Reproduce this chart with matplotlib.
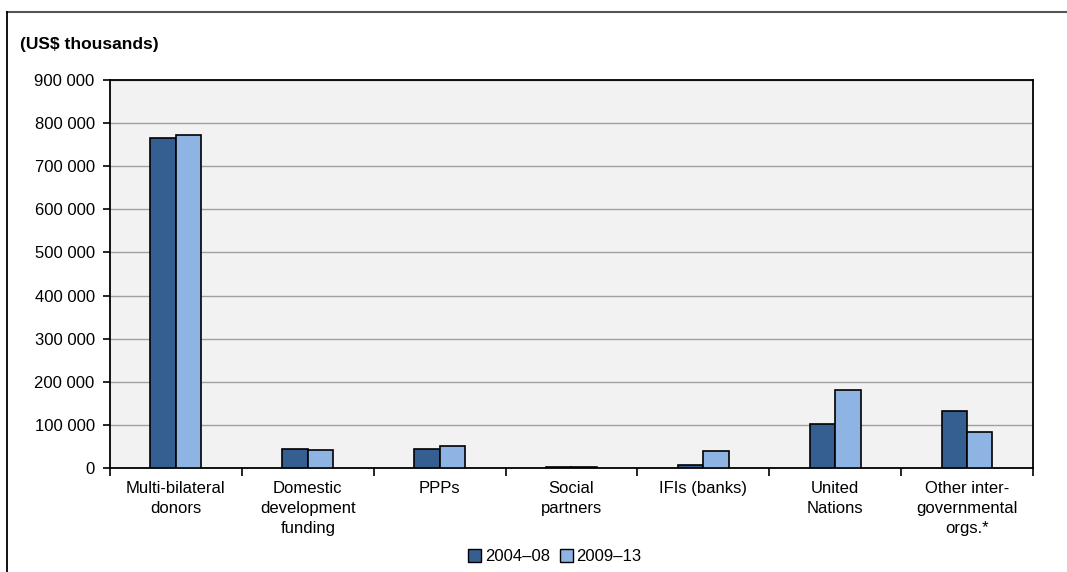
import numpy as np
import matplotlib.pyplot as plt
from matplotlib.ticker import FuncFormatter, FixedLocator
from matplotlib.patches import Patch
from matplotlib.lines import Line2D

plt.rcParams["font.family"] = ["Liberation Sans", "DejaVu Sans"]

categories = ["Multi-bilateral\ndonors", "Domestic\ndevelopment\nfunding", "PPPs",
              "Social\npartners", "IFIs (banks)", "United\nNations",
              "Other inter-\ngovernmental\norgs.*"]
period_a = [765000, 45000, 45000, 3000, 7000, 102000, 133000]
period_b = [772000, 42000, 51000, 3000, 39000, 181000, 83000]
labels = ["2004\u201308", "2009\u201313"]
dark, light = "#365F91", "#8EB4E3"

fig = plt.figure(figsize=(10.67, 5.72), dpi=100)
ax = fig.add_axes([0.1031, 0.1818, 0.8650, 0.6783])
ax.set_facecolor("#F2F2F2")

x = np.arange(len(categories))
w = 0.193
ax.bar(x - w / 2, period_a, w, color=dark, edgecolor="black", linewidth=1.2, zorder=3)
ax.bar(x + w / 2, period_b, w, color=light, edgecolor="black", linewidth=1.2, zorder=3)

ax.set_xlim(-0.5, len(categories) - 0.5)
ax.set_ylim(0, 900000)
ax.set_yticks(np.arange(0, 900001, 100000))
ax.yaxis.set_major_formatter(FuncFormatter(lambda v, p: f"{int(v):,}".replace(",", " ")))
ax.yaxis.grid(True, color="#A0A0A0", linewidth=1.0, zorder=0)

ax.set_xticks(x)
ax.set_xticklabels(categories, fontsize=12, linespacing=1.45)
ax.tick_params(axis="x", which="major", length=0, pad=9)
ax.xaxis.set_minor_locator(FixedLocator(np.arange(-0.5, len(categories), 1.0)))
ax.tick_params(axis="x", which="minor", length=6, width=1.2, direction="out")
ax.tick_params(axis="y", labelsize=12, length=5, width=1.2, direction="out", pad=6)

for s in ax.spines.values():
    s.set_linewidth(1.3)
    s.set_color("black")

fig.text(0.019, 0.922, "(US$ thousands)", fontsize=12.5, fontweight="bold", va="center")

# frame around the figure (top and left edges only)
fig.add_artist(Line2D([0.0066, 1.0], [0.979, 0.979], color="#555555", lw=1.5,
                      transform=fig.transFigure))
fig.add_artist(Line2D([0.0066, 0.0066], [0.0, 0.979], color="black", lw=1.3,
                      transform=fig.transFigure))

handles = [Patch(facecolor=dark, edgecolor="black", label=labels[0]),
           Patch(facecolor=light, edgecolor="black", label=labels[1])]
fig.legend(handles=handles, loc="center", bbox_to_anchor=(0.52, 0.027), ncol=2,
           frameon=False, fontsize=12, handlelength=0.8, handleheight=0.8,
           handletextpad=0.2, columnspacing=0.6)

fig.savefig("out.png", dpi=100)
